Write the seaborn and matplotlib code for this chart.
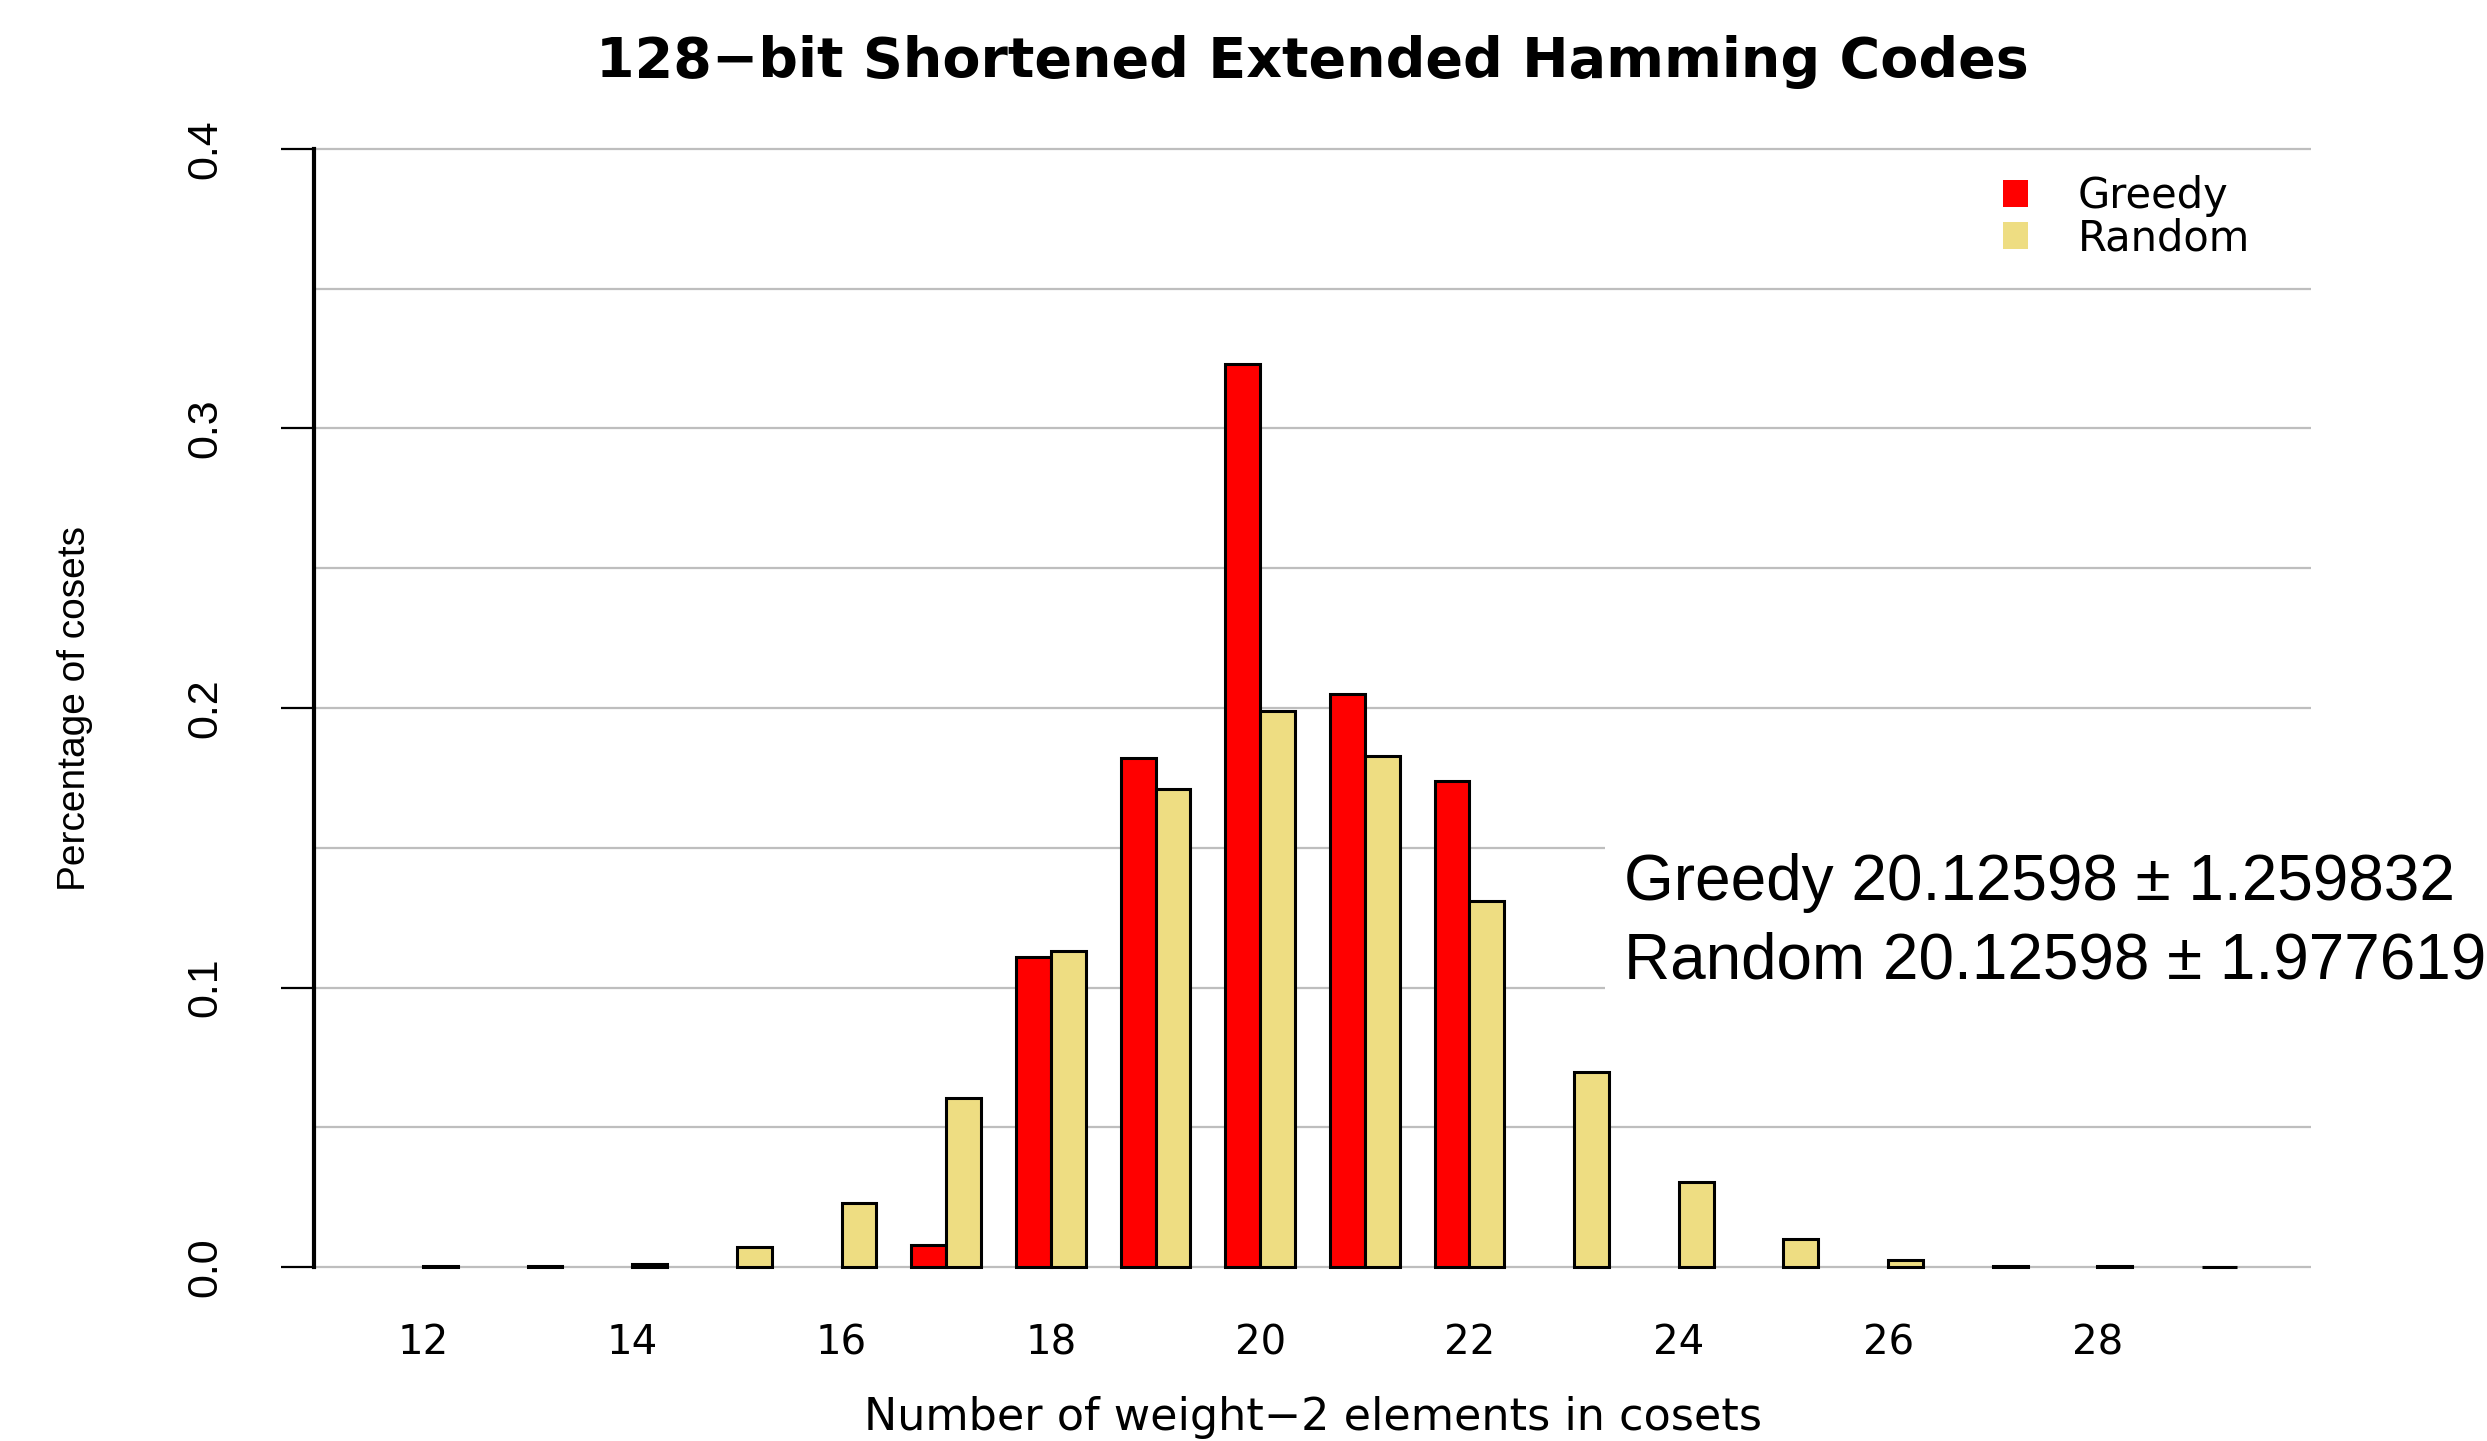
import numpy as np
import pandas as pd
import matplotlib
matplotlib.use("Agg")
import matplotlib.pyplot as plt
import seaborn as sns
from matplotlib.patches import Patch, Rectangle

# Coset weight-2 counts and the share of cosets at each count
weights = ["12", "13", "14", "15", "16", "17", "18", "19", "20",
           "21", "22", "23", "24", "25", "26", "27", "28", "29"]
greedy = [np.nan, np.nan, np.nan, np.nan, np.nan, 0.008, 0.111, 0.182, 0.323,
          0.205, 0.174, np.nan, np.nan, np.nan, np.nan, np.nan, np.nan, np.nan]
random_share = [0.0003, 0.0004, 0.0012, 0.0072, 0.023, 0.0605, 0.113, 0.171, 0.199,
                0.183, 0.131, 0.070, 0.0305, 0.010, 0.0025, 0.0006, 0.0003, 0.0002]
methods = ["Greedy", "Random"]
colors = {"Greedy": "#FF0000", "Random": "#EEDD82"}

y_ticks = [0.0, 0.1, 0.2, 0.3, 0.4]
y_tick_labels = ["0.0", "0.1", "0.2", "0.3", "0.4"]
grid_levels = [0.0, 0.05, 0.10, 0.15, 0.20, 0.25, 0.30, 0.35, 0.40]
shown_labels = ["12", "14", "16", "18", "20", "22", "24", "26", "28"]

summary_lines = ["Greedy 20.12598 \u00b1 1.259832",
                 "Random 20.12598 \u00b1 1.977619"]

df = pd.concat([
    pd.DataFrame({"weight": weights, "share": greedy, "method": "Greedy"}),
    pd.DataFrame({"weight": weights, "share": random_share, "method": "Random"}),
]).dropna()

sns.set_style("white")
plt.rcParams["font.family"] = ["DejaVu Sans"]
plt.rcParams.update({"text.color": "black", "axes.labelcolor": "black",
                     "xtick.color": "black", "ytick.color": "black"})

fig = plt.figure(figsize=(24.87, 14.41), dpi=100)
ax = fig.add_axes([0.1263, 0.0895, 0.8029, 0.8383])

for g in grid_levels:
    ax.axhline(g, color="#BEBEBE", lw=1.6, zorder=1)

sns.barplot(data=df, x="weight", y="share", hue="method", order=weights,
            hue_order=methods, palette=colors, width=2 / 3, errorbar=None,
            edgecolor="black", linewidth=2.2, saturation=1, legend=False,
            ax=ax, zorder=3)

ax.set_xlim(-1.04, len(weights) + 0.04)
ax.set_ylim(-0.016, 0.416)

for side in ["top", "right", "bottom"]:
    ax.spines[side].set_visible(False)
ax.spines["left"].set_bounds(0, 0.4)
ax.spines["left"].set_linewidth(3.0)
ax.spines["left"].set_color("black")

ax.set_yticks(y_ticks)
ax.set_yticklabels(y_tick_labels, rotation=90, va="center",
                   family=["Liberation Sans", "DejaVu Sans"], fontsize=31)
ax.tick_params(axis="y", length=24, width=1.6, pad=40, color="black", left=True)

ax.set_xticks([weights.index(w) for w in shown_labels])
ax.set_xticklabels(shown_labels, fontsize=29)
ax.tick_params(axis="x", length=0, pad=8)

ax.set_xlabel("Number of weight\u22122 elements in cosets", fontsize=32)
ax.xaxis.set_label_coords(0.5, -0.0877)
ax.xaxis.label.set_va("center")

ax.set_ylabel("Percentage of cosets", fontsize=28,
              family=["Liberation Sans", "DejaVu Sans"])
ax.yaxis.set_label_coords(-0.1197, 0.5)
ax.yaxis.label.set_va("center")

ax.set_title("128\u2212bit Shortened Extended Hamming Codes",
             fontsize=40, fontweight="bold", y=1.0345, pad=0)
ax.title.set_va("center")

handles = [Patch(facecolor=colors[m], edgecolor="none", label=m) for m in methods]
ax.legend(handles=handles, loc="upper left", bbox_to_anchor=(0.8054, 0.8785),
          bbox_transform=fig.transFigure, frameon=False, fontsize=30,
          handlelength=0.6, handleheight=0.6, handletextpad=1.2,
          labelspacing=0.0, borderpad=0, borderaxespad=0)

# White panel behind the summary statistics
fig.patches.append(Rectangle((0.6454, 0.290), 0.36, 0.1375,
                             transform=fig.transFigure, facecolor="white",
                             edgecolor="none", zorder=2))
fig.text(0.653, 0.387, summary_lines[0], fontsize=46, va="center", ha="left",
         family=["Liberation Sans", "DejaVu Sans"], zorder=3)
fig.text(0.653, 0.333, summary_lines[1], fontsize=46, va="center", ha="left",
         family=["Liberation Sans", "DejaVu Sans"], zorder=3)

fig.savefig("out.png", dpi=100)
